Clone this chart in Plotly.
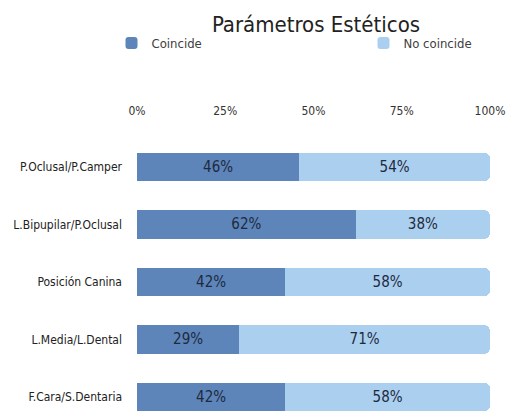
import plotly.graph_objects as go

categories = ["P.Oclusal/P.Camper", "L.Bipupilar/P.Oclusal", "Posición Canina",
              "L.Media/L.Dental", "F.Cara/S.Dentaria"]
coincide = [46, 62, 42, 29, 42]
no_coincide = [54, 38, 58, 71, 58]
tick_vals = [0, 25, 50, 75, 100]
tick_text = ["0%", "25%", "50%", "75%", "100%"]

dark = "#5d85b9"
light = "#abcfef"
FONT = "DejaVu Sans Condensed, Liberation Sans, Arial"

W, H = 506, 411  # page body has an 8px margin

fig = go.Figure()
fig.add_trace(go.Bar(
    y=categories, x=coincide, orientation="h", name="Coincide",
    marker=dict(color=dark, line=dict(width=0)),
    texttemplate="%{x}%", textposition="inside", insidetextanchor="middle",
    textfont=dict(size=15, color="#1e2a40", family=FONT),
    width=0.5, legend="legend",
))
fig.add_trace(go.Bar(
    y=categories, x=no_coincide, orientation="h", name="No coincide",
    marker=dict(color=light, line=dict(width=0)),
    texttemplate="%{x}%", textposition="inside", insidetextanchor="middle",
    textfont=dict(size=15, color="#1e2a40", family=FONT),
    width=0.5, legend="legend2",
))

leg_common = dict(orientation="h", xref="container", yref="container",
                  xanchor="left", yanchor="middle", y=1 - 35 / H,
                  font=dict(size=13, color="#404040", family=FONT),
                  bgcolor="rgba(0,0,0,0)", itemwidth=30)

fig.update_layout(
    width=W, height=H,
    barmode="stack",
    barcornerradius=6,
    margin=dict(l=129, r=24, t=122, b=0, autoexpand=False),
    paper_bgcolor="white", plot_bgcolor="white",
    font=dict(family=FONT, color="#333333", size=12),
    title=dict(text="Parámetros Estéticos", x=308 / W, xanchor="center",
               y=1 - 16 / H, yanchor="middle",
               font=dict(size=22, color="#222222", family=FONT)),
    showlegend=True,
    legend=dict(x=103.5 / W, **leg_common),
    legend2=dict(x=355.5 / W, **leg_common),
    xaxis=dict(side="top", range=[0, 100], tickvals=tick_vals, ticktext=tick_text,
               showgrid=False, zeroline=False, showline=False, ticks="",
               ticklabelstandoff=12, automargin=False, ticklabeloverflow="allow",
               tickfont=dict(size=12, color="#333333", family=FONT), fixedrange=True),
    yaxis=dict(categoryorder="array", categoryarray=categories,
               range=[4.383, -0.643], showgrid=False, zeroline=False,
               showline=False, ticks="", ticklabelstandoff=14, automargin=False,
               tickfont=dict(size=12, color="#222222", family=FONT), fixedrange=True),
)

fig.write_html("out.html")
